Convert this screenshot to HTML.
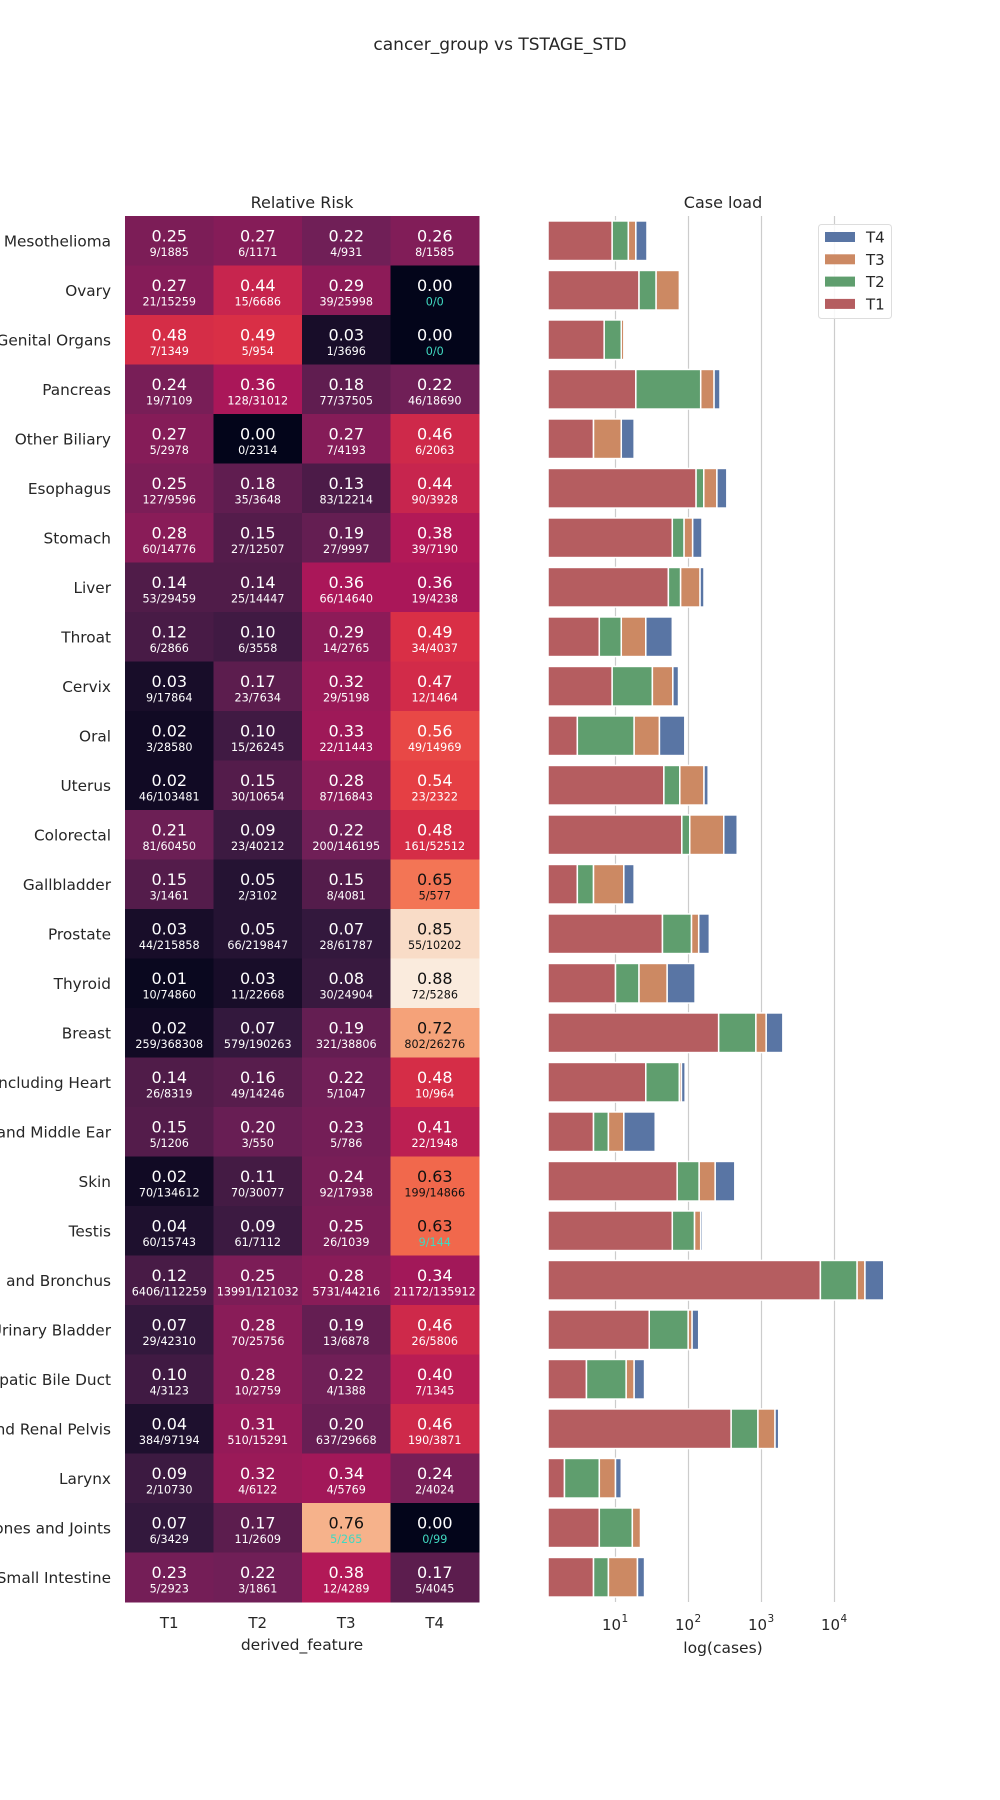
<!DOCTYPE html>
<html><head><meta charset="utf-8"><style>
body{margin:0;background:#fff;}
svg{display:block;font-family:"DejaVu Sans","Liberation Sans",sans-serif;}
</style></head><body>
<svg id="chart" width="1000" height="1800" viewBox="0 0 1000 1800" xmlns="http://www.w3.org/2000/svg">
<rect width="1000" height="1800" fill="#fff"/>
<text x="500" y="50" text-anchor="middle" font-size="17" fill="#262626">cancer_group vs TSTAGE_STD</text>
<text x="302" y="208" text-anchor="middle" font-size="16" fill="#262626">Relative Risk</text>
<text x="723" y="208" text-anchor="middle" font-size="16" fill="#262626">Case load</text>
<g id="heat"></g>
<g id="bars"></g>
<text x="302" y="1650" text-anchor="middle" font-size="15.5" fill="#262626">derived_feature</text>
<text x="723" y="1653" text-anchor="middle" font-size="15.5" fill="#262626">log(cases)</text>
</svg>
<script>
const categories = ["Mesothelioma","Ovary","Other Female Genital Organs","Pancreas","Other Biliary","Esophagus","Stomach","Liver","Throat","Cervix","Oral","Uterus","Colorectal","Gallbladder","Prostate","Thyroid","Breast","Soft Tissue including Heart","Nose, Nasal Cavity and Middle Ear","Skin","Testis","Lung and Bronchus","Urinary Bladder","Intrahepatic Bile Duct","Kidney and Renal Pelvis","Larynx","Bones and Joints","Small Intestine"];
const stages = ["T1","T2","T3","T4"];
const rr = [
[0.25,0.27,0.22,0.26],[0.27,0.44,0.29,0.00],[0.48,0.49,0.03,0.00],[0.24,0.36,0.18,0.22],
[0.27,0.00,0.27,0.46],[0.25,0.18,0.13,0.44],[0.28,0.15,0.19,0.38],[0.14,0.14,0.36,0.36],
[0.12,0.10,0.29,0.49],[0.03,0.17,0.32,0.47],[0.02,0.10,0.33,0.56],[0.02,0.15,0.28,0.54],
[0.21,0.09,0.22,0.48],[0.15,0.05,0.15,0.65],[0.03,0.05,0.07,0.85],[0.01,0.03,0.08,0.88],
[0.02,0.07,0.19,0.72],[0.14,0.16,0.22,0.48],[0.15,0.20,0.23,0.41],[0.02,0.11,0.24,0.63],
[0.04,0.09,0.25,0.63],[0.12,0.25,0.28,0.34],[0.07,0.28,0.19,0.46],[0.10,0.28,0.22,0.40],
[0.04,0.31,0.20,0.46],[0.09,0.32,0.34,0.24],[0.07,0.17,0.76,0.00],[0.23,0.22,0.38,0.17]];
const cases = [
[9,6,4,8],[21,15,39,0],[7,5,1,0],[19,128,77,46],[5,0,7,6],[127,35,83,90],[60,27,27,39],[53,25,66,19],
[6,6,14,34],[9,23,29,12],[3,15,22,49],[46,30,87,23],[81,23,200,161],[3,2,8,5],[44,66,28,55],[10,11,30,72],
[259,579,321,802],[26,49,5,10],[5,3,5,22],[70,70,92,199],[60,61,26,9],[6406,13991,5731,21172],[29,70,13,26],[4,10,4,7],
[384,510,637,190],[2,4,4,2],[6,11,5,0],[5,3,12,5]];
const totals = [
[1885,1171,931,1585],[15259,6686,25998,0],[1349,954,3696,0],[7109,31012,37505,18690],[2978,2314,4193,2063],[9596,3648,12214,3928],[14776,12507,9997,7190],[29459,14447,14640,4238],
[2866,3558,2765,4037],[17864,7634,5198,1464],[28580,26245,11443,14969],[103481,10654,16843,2322],[60450,40212,146195,52512],[1461,3102,4081,577],[215858,219847,61787,10202],[74860,22668,24904,5286],
[368308,190263,38806,26276],[8319,14246,1047,964],[1206,550,786,1948],[134612,30077,17938,14866],[15743,7112,1039,144],[112259,121032,44216,135912],[42310,25756,6878,5806],[3123,2759,1388,1345],
[97194,15291,29668,3871],[10730,6122,5769,4024],[3429,2609,265,99],[2923,1861,4289,4045]];
const flagged = [[1,3],[2,3],[20,3],[26,2],[26,3]];
const xTicks = [10,100,1000,10000];
const tickExp = ["1","2","3","4"];
const legendOrder = ["T4","T3","T2","T1"];
</script>
<script>
const NS="http://www.w3.org/2000/svg";
function mk(tag,attrs,parent){const e=document.createElementNS(NS,tag);for(const k in attrs)e.setAttribute(k,attrs[k]);parent.appendChild(e);return e;}
const HX=125,HY=216,CW=88.5,CH=49.5,VMAX=0.88;
const stops=[[0,"#03051A"],[0.083,"#35193E"],[0.25,"#701F57"],[0.417,"#AD1759"],[0.583,"#E13342"],[0.72,"#F26A4C"],[0.82,"#F5A37A"],[0.9,"#F6BE9A"],[0.965,"#F9DCC6"],[1,"#FAEBDD"]];
function hex(h){return [1,3,5].map(i=>parseInt(h.substr(i,2),16));}
function cmap(v){let t=Math.max(0,Math.min(1,v/VMAX));for(let i=1;i<stops.length;i++){if(t<=stops[i][0]){const a=hex(stops[i-1][1]),b=hex(stops[i][1]);const f=(t-stops[i-1][0])/(stops[i][0]-stops[i-1][0]);const c=a.map((x,j)=>Math.round(x+(b[j]-x)*f));return "rgb("+c.join(",")+")";}}return "#FAEBDD";}
function isFlag(r,c){return flagged.some(f=>f[0]===r&&f[1]===c);}
const heat=document.getElementById('heat');
categories.forEach((cat,r)=>{
  const lab=mk('text',{x:HX-14,y:HY+r*CH+CH/2+5.5,'text-anchor':'end','font-size':'15.3',fill:'#262626'},heat);
  
  
  lab.textContent=cat;
  stages.forEach((s,c)=>{
    const x=HX+c*CW,y=HY+r*CH;
    const rect=mk('rect',{x:x,y:y,width:CW+0.5,height:CH+0.5,fill:cmap(rr[r][c])},heat);
    
    
    const tc=(rr[r][c]/VMAX)>0.68?"#111":"#fff";
    const t1=mk('text',{x:x+CW/2,y:y+CH/2+0.5,'text-anchor':'middle','font-size':'16',fill:tc},heat);
    
    
    t1.textContent=rr[r][c].toFixed(2);
    const t2=mk('text',{x:x+CW/2,y:y+CH/2+15,'text-anchor':'middle','font-size':'11.2',fill:isFlag(r,c)?"#40d8c0":tc},heat);
    
    
    t2.textContent=cases[r][c]+"/"+totals[r][c];
  });
});
stages.forEach((s,c)=>{
  const t=mk('text',{x:HX+c*CW+CW/2,y:1628,'text-anchor':'middle','font-size':'15',fill:'#262626'},heat);
  
  
  t.textContent=s;
});
const bars=document.getElementById('bars');
const BX0=548;
function xs(v){return 615.5+(Math.log10(v)-1)*73;}
xTicks.forEach((v,i)=>{
  const g=mk('line',{x1:xs(v),x2:xs(v),y1:216,y2:1602,stroke:'#cccccc','stroke-width':'1.2'},bars);
  
  
  const t=mk('text',{x:xs(v)-4,y:1630,'text-anchor':'middle','font-size':'15',fill:'#262626'},bars);
  
  
  t.textContent="10";
  const sup=mk('text',{x:xs(v)+6,y:1622,'font-size':'10.5',fill:'#262626'},bars);
  
  
  sup.textContent=tickExp[i];
});
const colors={T1:"#b55d60",T2:"#5f9e6e",T3:"#cc8963",T4:"#5975a4"};
categories.forEach((cat,r)=>{
  let cum=0;
  const yc=HY+r*CH+CH/2,bh=CH*0.8;
  stages.forEach((s,c)=>{
    const n=cases[r][c];
    if(n<=0)return;
    const x0=cum===0?BX0:xs(cum);
    cum+=n;
    const x1=xs(cum);
    const b=mk('rect',{x:x0,y:yc-bh/2,width:Math.max(0,x1-x0),height:bh,fill:colors[s],stroke:'#fff','stroke-width':'1.5'},bars);
    
    
  });
});
const lg=mk('g',{},bars);


const lb=mk('rect',{x:818.5,y:224.5,width:73,height:94,rx:3,fill:'#fff','fill-opacity':'0.85',stroke:'#dddddd','stroke-width':'1'},lg);


legendOrder.forEach((s,i)=>{
  const y=237+i*22.3;
  const p=mk('rect',{x:825,y:y-5,width:30,height:10,fill:colors[s]},lg);
  
  
  const t=mk('text',{x:866,y:y+5.5,'font-size':'15',fill:'#262626'},lg);
  
  
  t.textContent=s;
});
</script>
</body></html>
